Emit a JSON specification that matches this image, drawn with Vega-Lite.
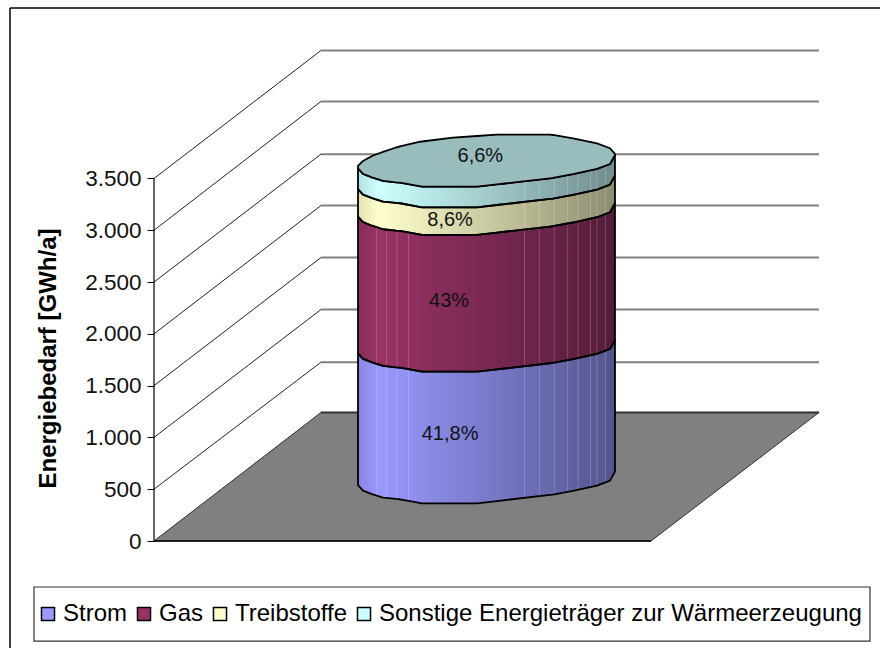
{
"$schema":"https://vega.github.io/schema/vega-lite/v6.json",
"width":870,"height":640,"autosize":"none",
"padding":{"left":10,"top":8,"right":0,"bottom":0},
"background":"white",
"config":{"view":{"stroke":null},"font":"Liberation Sans"},
"datasets":{
"walls":[{"level":500,"back":1726,"front":0,"depth":33.67,"right":134.07},{"level":1000,"back":2235,"front":0,"depth":33.67,"right":134.07},{"level":1500,"back":2737,"front":0,"depth":33.67,"right":134.07},{"level":2000,"back":3239,"front":0,"depth":33.67,"right":134.07},{"level":2500,"back":3735,"front":0,"depth":33.67,"right":134.07},{"level":3000,"back":4244,"front":0,"depth":33.67,"right":134.07},{"level":3500,"back":4736,"front":0,"depth":33.67,"right":134.07}],
"floor":[{"x":0,"lo":0,"hi":0},{"x":33.67,"lo":0,"hi":1241},{"x":100.2,"lo":0,"hi":1241},{"x":134.07,"lo":1241,"hi":1241}],
"cap":[{"x":41.13,"lo":3597,"hi":3621},{"x":42.14,"lo":3544,"hi":3669},{"x":43.95,"lo":3510,"hi":3717},{"x":46.17,"lo":3476,"hi":3756},{"x":48.79,"lo":3463,"hi":3799},{"x":49.6,"lo":3460,"hi":3811},{"x":53.23,"lo":3428,"hi":3852},{"x":54.03,"lo":3421,"hi":3857},{"x":60.28,"lo":3421,"hi":3894},{"x":65.12,"lo":3421,"hi":3910},{"x":69.15,"lo":3443,"hi":3923},{"x":71.17,"lo":3454,"hi":3923},{"x":79.84,"lo":3502,"hi":3923},{"x":80.44,"lo":3505,"hi":3920},{"x":84.48,"lo":3541,"hi":3888},{"x":89.31,"lo":3592,"hi":3839},{"x":91.94,"lo":3640,"hi":3792},{"x":92.94,"lo":3727,"hi":3737}],
"stripes":[{"x":44.9,"lo":438,"hi":3495},{"x":46.9,"lo":415,"hi":3472},{"x":49.0,"lo":405,"hi":3462},{"x":51.3,"lo":388,"hi":3445},{"x":74.7,"lo":417,"hi":3474},{"x":77.7,"lo":433,"hi":3490},{"x":80.7,"lo":450,"hi":3507},{"x":83.4,"lo":474,"hi":3531},{"x":85.5,"lo":495,"hi":3552},{"x":88.0,"lo":521,"hi":3578},{"x":89.3,"lo":535,"hi":3592},{"x":91.0,"lo":566,"hi":3623}],
"labels":[{"x":59.7,"y":1033,"text":"41,8%"},{"x":59.5,"y":2317,"text":"43%"},{"x":59.7,"y":3099,"text":"8,6%"},{"x":65.8,"y":3717,"text":"6,6%"}],
"body":[
{"s":"Strom","x":41.13,"lo":540,"hi":1811},{"s":"Strom","x":42.14,"lo":487,"hi":1758},{"s":"Strom","x":43.95,"lo":453,"hi":1724},{"s":"Strom","x":46.17,"lo":419,"hi":1690},{"s":"Strom","x":48.79,"lo":406,"hi":1677},{"s":"Strom","x":49.6,"lo":403,"hi":1674},{"s":"Strom","x":53.23,"lo":371,"hi":1642},{"s":"Strom","x":54.03,"lo":364,"hi":1635},{"s":"Strom","x":60.28,"lo":364,"hi":1635},{"s":"Strom","x":65.12,"lo":364,"hi":1635},{"s":"Strom","x":69.15,"lo":386,"hi":1657},{"s":"Strom","x":71.17,"lo":397,"hi":1668},{"s":"Strom","x":79.84,"lo":445,"hi":1716},{"s":"Strom","x":80.44,"lo":448,"hi":1719},{"s":"Strom","x":84.48,"lo":484,"hi":1755},{"s":"Strom","x":89.31,"lo":535,"hi":1806},{"s":"Strom","x":91.94,"lo":583,"hi":1854},{"s":"Strom","x":92.94,"lo":670,"hi":1941},
{"s":"Gas","x":41.13,"lo":1811,"hi":3131},{"s":"Gas","x":42.14,"lo":1758,"hi":3078},{"s":"Gas","x":43.95,"lo":1724,"hi":3044},{"s":"Gas","x":46.17,"lo":1690,"hi":3010},{"s":"Gas","x":48.79,"lo":1677,"hi":2997},{"s":"Gas","x":49.6,"lo":1674,"hi":2994},{"s":"Gas","x":53.23,"lo":1642,"hi":2962},{"s":"Gas","x":54.03,"lo":1635,"hi":2955},{"s":"Gas","x":60.28,"lo":1635,"hi":2955},{"s":"Gas","x":65.12,"lo":1635,"hi":2955},{"s":"Gas","x":69.15,"lo":1657,"hi":2977},{"s":"Gas","x":71.17,"lo":1668,"hi":2988},{"s":"Gas","x":79.84,"lo":1716,"hi":3036},{"s":"Gas","x":80.44,"lo":1719,"hi":3039},{"s":"Gas","x":84.48,"lo":1755,"hi":3075},{"s":"Gas","x":89.31,"lo":1806,"hi":3126},{"s":"Gas","x":91.94,"lo":1854,"hi":3174},{"s":"Gas","x":92.94,"lo":1941,"hi":3261},
{"s":"Treibstoffe","x":41.13,"lo":3131,"hi":3398},{"s":"Treibstoffe","x":42.14,"lo":3078,"hi":3345},{"s":"Treibstoffe","x":43.95,"lo":3044,"hi":3311},{"s":"Treibstoffe","x":46.17,"lo":3010,"hi":3277},{"s":"Treibstoffe","x":48.79,"lo":2997,"hi":3264},{"s":"Treibstoffe","x":49.6,"lo":2994,"hi":3261},{"s":"Treibstoffe","x":53.23,"lo":2962,"hi":3229},{"s":"Treibstoffe","x":54.03,"lo":2955,"hi":3222},{"s":"Treibstoffe","x":60.28,"lo":2955,"hi":3222},{"s":"Treibstoffe","x":65.12,"lo":2955,"hi":3222},{"s":"Treibstoffe","x":69.15,"lo":2977,"hi":3244},{"s":"Treibstoffe","x":71.17,"lo":2988,"hi":3255},{"s":"Treibstoffe","x":79.84,"lo":3036,"hi":3303},{"s":"Treibstoffe","x":80.44,"lo":3039,"hi":3306},{"s":"Treibstoffe","x":84.48,"lo":3075,"hi":3342},{"s":"Treibstoffe","x":89.31,"lo":3126,"hi":3393},{"s":"Treibstoffe","x":91.94,"lo":3174,"hi":3441},{"s":"Treibstoffe","x":92.94,"lo":3261,"hi":3528},
{"s":"Sonstige Energieträger zur Wärmeerzeugung","x":41.13,"lo":3398,"hi":3597},{"s":"Sonstige Energieträger zur Wärmeerzeugung","x":42.14,"lo":3345,"hi":3544},{"s":"Sonstige Energieträger zur Wärmeerzeugung","x":43.95,"lo":3311,"hi":3510},{"s":"Sonstige Energieträger zur Wärmeerzeugung","x":46.17,"lo":3277,"hi":3476},{"s":"Sonstige Energieträger zur Wärmeerzeugung","x":48.79,"lo":3264,"hi":3463},{"s":"Sonstige Energieträger zur Wärmeerzeugung","x":49.6,"lo":3261,"hi":3460},{"s":"Sonstige Energieträger zur Wärmeerzeugung","x":53.23,"lo":3229,"hi":3428},{"s":"Sonstige Energieträger zur Wärmeerzeugung","x":54.03,"lo":3222,"hi":3421},{"s":"Sonstige Energieträger zur Wärmeerzeugung","x":60.28,"lo":3222,"hi":3421},{"s":"Sonstige Energieträger zur Wärmeerzeugung","x":65.12,"lo":3222,"hi":3421},{"s":"Sonstige Energieträger zur Wärmeerzeugung","x":69.15,"lo":3244,"hi":3443},{"s":"Sonstige Energieträger zur Wärmeerzeugung","x":71.17,"lo":3255,"hi":3454},{"s":"Sonstige Energieträger zur Wärmeerzeugung","x":79.84,"lo":3303,"hi":3502},{"s":"Sonstige Energieträger zur Wärmeerzeugung","x":80.44,"lo":3306,"hi":3505},{"s":"Sonstige Energieträger zur Wärmeerzeugung","x":84.48,"lo":3342,"hi":3541},{"s":"Sonstige Energieträger zur Wärmeerzeugung","x":89.31,"lo":3393,"hi":3592},{"s":"Sonstige Energieträger zur Wärmeerzeugung","x":91.94,"lo":3441,"hi":3640},{"s":"Sonstige Energieträger zur Wärmeerzeugung","x":92.94,"lo":3528,"hi":3727}
]},
"resolve":{"scale":{"x":"shared","y":"shared"}},
"layer":[
{"data":{"values":[{"x":-29.03,"lo":-1033,"hi":5146}]},"mark":{"type":"rule","color":"#404040","strokeWidth":2},
 "encoding":{"x":{"field":"x","type":"quantitative","scale":{"domain":[-29.03,146.37],"nice":false,"zero":false},"axis":null},
 "y":{"field":"lo","type":"quantitative","scale":{"domain":[-1033,5146],"nice":false,"zero":false},
  "axis":{"values":[0,500,1000,1500,2000,2500,3000,3500],"offset":-144,"domain":false,"grid":false,"tickSize":7,"tickColor":"black","tickWidth":1,"labelFont":"Liberation Sans","labelFontSize":22.5,"labelColor":"#111","labelPadding":6,"labelExpr":"replace(format(datum.value,','),',','.')","title":"Energiebedarf [GWh/a]","titleFont":"Liberation Sans","titleFontSize":24,"titleFontWeight":"bold","titleColor":"black","titleAngle":-90,"titleX":-94,"titleY":350}},
 "y2":{"field":"hi"}}},
{"data":{"values":[{"x":-29.03,"x2":146.37,"y":5146}]},"mark":{"type":"rule","color":"black","strokeWidth":1.5},
 "encoding":{"x":{"field":"x","type":"quantitative"},"x2":{"field":"x2"},"y":{"field":"y","type":"quantitative"}}},
{"data":{"values":[{"x":-24.19,"x2":144.35,"y":-444,"y2":-966}]},"mark":{"type":"rect","fill":"white","stroke":"#333","strokeWidth":1.2},
 "encoding":{"x":{"field":"x","type":"quantitative"},"x2":{"field":"x2"},"y":{"field":"y","type":"quantitative"},"y2":{"field":"y2"}}},
{"data":{"name":"walls"},"mark":{"type":"rule","color":"#222","strokeWidth":1},
 "encoding":{"x":{"field":"front","type":"quantitative"},"x2":{"field":"depth"},"y":{"field":"level","type":"quantitative"},"y2":{"field":"back"}}},
{"data":{"name":"walls"},"mark":{"type":"rule","color":"#808080","strokeWidth":2},
 "encoding":{"x":{"field":"depth","type":"quantitative"},"x2":{"field":"right"},"y":{"field":"back","type":"quantitative"}}},
{"data":{"values":[{"x":0,"y":0,"y2":3500}]},"mark":{"type":"rule","color":"black","strokeWidth":1.2},
 "encoding":{"x":{"field":"x","type":"quantitative"},"y":{"field":"y","type":"quantitative"},"y2":{"field":"y2"}}},
{"data":{"name":"floor"},"mark":{"type":"area","fill":"#808080","stroke":"#303030","strokeWidth":1},
 "encoding":{"x":{"field":"x","type":"quantitative"},"y":{"field":"lo","type":"quantitative"},"y2":{"field":"hi"}}},
{"data":{"values":[{"x":33.67,"x2":134.07,"y":1241}]},"mark":{"type":"rule","color":"#333","strokeWidth":2},
 "encoding":{"x":{"field":"x","type":"quantitative"},"x2":{"field":"x2"},"y":{"field":"y","type":"quantitative"}}},
{"data":{"values":[{"x":0,"x2":100.2,"y":0}]},"mark":{"type":"rule","color":"black","strokeWidth":1.5},
 "encoding":{"x":{"field":"x","type":"quantitative"},"x2":{"field":"x2"},"y":{"field":"y","type":"quantitative"}}},
{"data":{"name":"body"},"mark":{"type":"area"},
 "encoding":{"x":{"field":"x","type":"quantitative"},"y":{"field":"lo","type":"quantitative"},"y2":{"field":"hi"},
 "color":{"field":"s","type":"nominal","sort":["Strom","Gas","Treibstoffe","Sonstige Energieträger zur Wärmeerzeugung"],
  "scale":{"domain":["Strom","Gas","Treibstoffe","Sonstige Energieträger zur Wärmeerzeugung"],"range":["#9999FF","#993366","#FFFFCC","#CCFFFF"]},
  "legend":{"title":null,"orient":"none","legendX":26,"legendY":594,"direction":"horizontal","columns":4,"symbolType":"square","symbolSize":170,"symbolStrokeColor":"black","symbolStrokeWidth":1.5,"symbolOpacity":1,"padding":0,"labelFont":"Liberation Sans","labelFontSize":24,"labelColor":"black","labelLimit":600,"labelOffset":3,"columnPadding":4}}}},
{"data":{"name":"body"},"mark":{"type":"area","fill":{"x1":0,"y1":0,"x2":1,"y2":0,"gradient":"linear","stops":[{"offset":0,"color":"rgba(0,0,0,0.12)"},{"offset":0.08,"color":"rgba(0,0,0,0)"},{"offset":1,"color":"rgba(0,0,0,0.45)"}]}},
 "encoding":{"x":{"field":"x","type":"quantitative"},"y":{"field":"lo","type":"quantitative"},"y2":{"field":"hi"},"detail":{"field":"s"}}},
{"data":{"name":"stripes"},"mark":{"type":"rule","color":"white","strokeWidth":1,"opacity":0.2},
 "encoding":{"x":{"field":"x","type":"quantitative"},"y":{"field":"lo","type":"quantitative"},"y2":{"field":"hi"}}},
{"data":{"name":"body"},"mark":{"type":"area","fillOpacity":0,"stroke":"black","strokeWidth":1.8,"strokeJoin":"round"},
 "encoding":{"x":{"field":"x","type":"quantitative"},"y":{"field":"lo","type":"quantitative"},"y2":{"field":"hi"},"detail":{"field":"s"}}},
{"data":{"name":"cap"},"mark":{"type":"area","fill":"#99BDBD","stroke":"black","strokeWidth":1.8,"strokeJoin":"round"},
 "encoding":{"x":{"field":"x","type":"quantitative"},"y":{"field":"lo","type":"quantitative"},"y2":{"field":"hi"}}},
{"data":{"name":"labels"},"mark":{"type":"text","font":"Liberation Sans","fontSize":20,"color":"#111","align":"center","baseline":"middle"},
 "encoding":{"x":{"field":"x","type":"quantitative"},"y":{"field":"y","type":"quantitative"},"text":{"field":"text"}}}
]
}
